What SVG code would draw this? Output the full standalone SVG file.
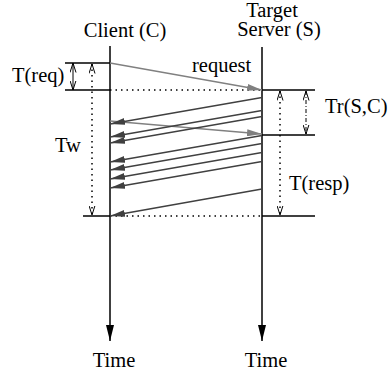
<svg xmlns="http://www.w3.org/2000/svg" width="390" height="372" viewBox="0 0 390 372">
  <style>
    .lbl { font-family: 'Liberation Serif', 'Times New Roman', Times, serif; font-size: 20.5px; fill: #000; }
    .life { stroke: #000; stroke-width: 1.5; fill: none; }
    .tick { stroke: #000; stroke-width: 1.5; fill: none; }
    .dot { stroke: #000; stroke-width: 1.5; stroke-dasharray: 1.5 4; fill: none; }
    .dashdot { stroke: #000; stroke-width: 1; stroke-dasharray: 4 2 1 2; fill: none; }
    .span { stroke: #000; stroke-width: 1; fill: none; }
    .req { stroke: #808080; stroke-width: 1.3; fill: none; marker-end: url(#headGray); }
    .resp { stroke: #404040; stroke-width: 1.3; fill: none; marker-end: url(#headDark); }
  </style>
  <defs>
    <marker id="headGray" viewBox="0 0 15 7" refX="15" refY="3.5" markerWidth="15" markerHeight="7" markerUnits="userSpaceOnUse" orient="auto">
      <path d="M0,0 L15,3.5 L0,7 z" fill="#808080"/>
    </marker>
    <marker id="headDark" viewBox="0 0 15 7" refX="15" refY="3.5" markerWidth="15" markerHeight="7" markerUnits="userSpaceOnUse" orient="auto">
      <path d="M0,0 L15,3.5 L0,7 z" fill="#404040"/>
    </marker>
    <marker id="headAxis" viewBox="0 0 16 8" refX="16" refY="4" markerWidth="16" markerHeight="8" markerUnits="userSpaceOnUse" orient="auto">
      <path d="M0,0 L16,4 L0,8 z" fill="#000"/>
    </marker>
    <marker id="vee" viewBox="0 0 10 7" refX="9.5" refY="3.5" markerWidth="10" markerHeight="7" markerUnits="userSpaceOnUse" orient="auto-start-reverse">
      <path d="M0,0.5 L9.5,3.5 L0,6.5" fill="none" stroke="#000" stroke-width="1"/>
    </marker>
  </defs>

  <!-- client lifeline with its time axis -->
  <g id="client">
    <text class="lbl" x="125" y="37" text-anchor="middle">Client (C)</text>
    <line class="life" x1="110" y1="46" x2="110" y2="341" marker-end="url(#headAxis)"/>
    <text class="lbl" x="114" y="367" text-anchor="middle">Time</text>
    <line class="tick" x1="65" y1="63" x2="110" y2="63"/>
    <line class="tick" x1="65" y1="90" x2="110" y2="90"/>
    <line class="tick" x1="83" y1="216" x2="110" y2="216"/>
    <!-- T(req) span -->
    <line class="span" x1="73" y1="63" x2="73" y2="90" marker-start="url(#vee)" marker-end="url(#vee)"/>
    <text class="lbl" x="12" y="82">T(req)</text>
    <!-- Tw span -->
    <line class="dot" x1="92" y1="64" x2="92" y2="215" stroke-width="1.3" marker-start="url(#vee)" marker-end="url(#vee)"/>
    <text class="lbl" x="55" y="152">Tw</text>
  </g>

  <!-- server lifeline with its time axis -->
  <g id="server">
    <text class="lbl" x="272" y="17" text-anchor="middle">Target</text>
    <text class="lbl" x="279" y="36" text-anchor="middle">Server (S)</text>
    <line class="life" x1="262" y1="47" x2="262" y2="341" marker-end="url(#headAxis)"/>
    <text class="lbl" x="266" y="367" text-anchor="middle">Time</text>
    <line class="tick" x1="262" y1="90" x2="315" y2="90"/>
    <line class="tick" x1="262" y1="135" x2="315" y2="135"/>
    <line class="tick" x1="262" y1="216" x2="315" y2="216"/>
    <!-- Tr(S,C) span -->
    <line class="dashdot" x1="306" y1="91" x2="306" y2="134" marker-start="url(#vee)" marker-end="url(#vee)"/>
    <text class="lbl" x="325" y="113">Tr(S,C)</text>
    <!-- T(resp) span -->
    <line class="dot" x1="280" y1="91" x2="280" y2="215" stroke-width="1.3" marker-start="url(#vee)" marker-end="url(#vee)"/>
    <text class="lbl" x="289" y="190">T(resp)</text>
  </g>

  <!-- messages between client and server -->
  <g id="connectors">
    <line class="dot" x1="110" y1="90" x2="262" y2="90"/>
    <line class="dot" x1="110" y1="216" x2="262" y2="216"/>
    <line class="req" x1="110" y1="63" x2="262" y2="90"/>
    <text class="lbl" x="192" y="72">request</text>
    <line class="req" x1="110" y1="121" x2="262" y2="134"/>
    <line class="resp" x1="262" y1="97.5" x2="110" y2="124"/>
    <line class="resp" x1="262" y1="110.5" x2="110" y2="137"/>
    <line class="resp" x1="262" y1="116.5" x2="110" y2="143"/>
    <line class="resp" x1="262" y1="135.5" x2="110" y2="162"/>
    <line class="resp" x1="262" y1="143.5" x2="110" y2="170"/>
    <line class="resp" x1="262" y1="152.5" x2="110" y2="179"/>
    <line class="resp" x1="262" y1="161.5" x2="110" y2="188"/>
    <line class="resp" x1="262" y1="189" x2="110" y2="216"/>
  </g>
</svg>
